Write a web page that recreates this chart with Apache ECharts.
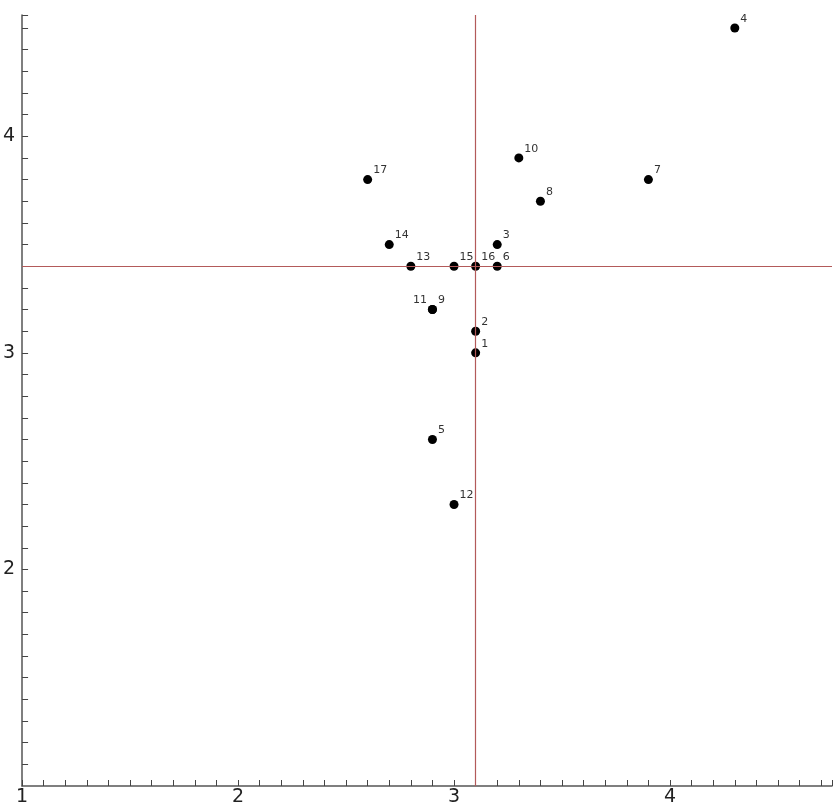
<!DOCTYPE html>
<html>
<head>
<meta charset="utf-8">
<script src="https://cdn.jsdelivr.net/npm/echarts@6/dist/echarts.min.js"></script>
<style>
  html, body { margin: 0; padding: 0; background: #fff; }
  #chart { width: 835px; height: 807px; }
</style>
</head>
<body>
<div id="chart"></div>
<script>
// point ids, coordinates
const ids = ['1', '2', '3', '4', '5', '6', '7', '8', '9', '10', '11', '12', '13', '14', '15', '16', '17']
const xValues = [3.1, 3.1, 3.2, 4.3, 2.9, 3.2, 3.9, 3.4, 2.9, 3.3, 2.9, 3.0, 2.8, 2.7, 3.0, 3.1, 2.6]
const yValues = [3.0, 3.1, 3.5, 4.5, 2.6, 3.4, 3.8, 3.7, 3.2, 3.9, 3.2, 2.3, 3.4, 3.5, 3.4, 3.4, 3.8]
// red reference lines (x, y)
const refX = 3.1
const refY = 3.4

const X_MIN = 1, X_MAX = 4.75
const Y_MIN = 1, Y_MAX = 4.56

const chart = echarts.init(document.getElementById('chart'))

const points = ids.map((id, i) => {
  const item = { name: id, value: [xValues[i], yValues[i]] }
  // 11 sits on top of 9, its label goes left
  if (id === '11') {
    item.label = { position: 'left', distance: 1, offset: [0, -9] }
  }
  return item
})

const intLabel = v => (Math.abs(v - Math.round(v)) < 1e-6 ? String(Math.round(v)) : '')

const axisCommon = {
  type: 'value',
  interval: 0.1,
  splitLine: { show: false },
  axisLine: { show: true, lineStyle: { color: '#555', width: 1.5 } },
  axisTick: { show: true, inside: true, length: 6, lineStyle: { color: '#444' } },
  axisLabel: {
    formatter: intLabel,
    color: '#222',
    fontSize: 19,
    fontFamily: 'DejaVu Sans'
  }
}

const refLine = { color: '#b35a5a', width: 1.2, type: 'solid' }

const option = {
  backgroundColor: '#fff',
  animation: false,
  grid: { left: 22, right: 0, top: 15, bottom: 19 },
  xAxis: Object.assign({}, axisCommon, {
    min: X_MIN,
    max: X_MAX,
    axisLabel: Object.assign({}, axisCommon.axisLabel, { margin: 2 })
  }),
  yAxis: Object.assign({}, axisCommon, {
    min: Y_MIN,
    max: Y_MAX,
    axisLabel: Object.assign({}, axisCommon.axisLabel, { margin: 7, showMinLabel: false })
  }),
  series: [
    {
      type: 'scatter',
      symbolSize: 9,
      itemStyle: { color: '#000', opacity: 1 },
      label: {
        show: true,
        formatter: '{b}',
        position: 'right',
        distance: 1,
        offset: [0, -9],
        color: '#333',
        fontSize: 11,
        fontFamily: 'DejaVu Sans'
      },
      emphasis: { disabled: true },
      data: points,
      markLine: {
        silent: true,
        symbol: 'none',
        label: { show: false },
        lineStyle: refLine,
        data: [
          [{ coord: [refX, Y_MIN], lineStyle: refLine }, { coord: [refX, Y_MAX] }],
          [{ coord: [X_MIN, refY], lineStyle: refLine }, { coord: [X_MAX, refY] }]
        ]
      }
    }
  ]
}

chart.setOption(option)
</script>
</body>
</html>
